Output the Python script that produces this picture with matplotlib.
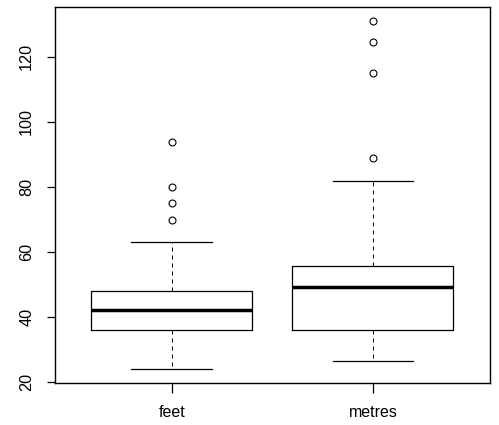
import matplotlib
matplotlib.use("Agg")
import matplotlib.pyplot as plt

plt.rcParams['font.family'] = ['Liberation Sans', 'DejaVu Sans']

# Box statistics
labels = ["feet", "metres"]
whislo = [24.1, 26.5]
q1 = [36.0, 36.1]
med = [42.2, 49.2]
q3 = [48.0, 55.7]
whishi = [63.1, 81.8]
fliers = [[69.8, 75.1, 80.0, 93.8], [88.8, 115.0, 124.6, 131.0]]

stats = []
for i in range(len(labels)):
    stats.append(dict(label=labels[i], whislo=whislo[i], q1=q1[i], med=med[i],
                      q3=q3[i], whishi=whishi[i], fliers=fliers[i]))

fig = plt.figure(figsize=(4.99, 4.25), dpi=100)
ax = fig.add_axes([55 / 499, 42 / 425, 434.7 / 499, 376 / 425])

ax.bxp(stats, positions=[1, 2], widths=0.8, capwidths=0.4,
       boxprops=dict(color="black", linewidth=0.9),
       medianprops=dict(color="black", linewidth=2.5, solid_capstyle="butt"),
       whiskerprops=dict(color="black", linewidth=0.72, linestyle=(0, (4, 4))),
       capprops=dict(color="black", linewidth=0.9),
       flierprops=dict(marker="o", markerfacecolor="none", markeredgecolor="black",
                       markersize=5, markeredgewidth=0.8))

ax.set_xlim(0.42, 2.58)
ax.set_ylim(19.72, 135.28)
ax.set_yticks([20, 40, 60, 80, 100, 120])
ax.tick_params(axis="y", length=6, width=0.9, labelsize=11.7, pad=9)
ax.tick_params(axis="x", length=7.5, width=0.9, labelsize=11.5, pad=8)
for lbl in ax.get_yticklabels():
    lbl.set_rotation(90)
    lbl.set_va("center")
for s in ax.spines.values():
    s.set_linewidth(1.0)

fig.savefig("out.png", dpi=100)
